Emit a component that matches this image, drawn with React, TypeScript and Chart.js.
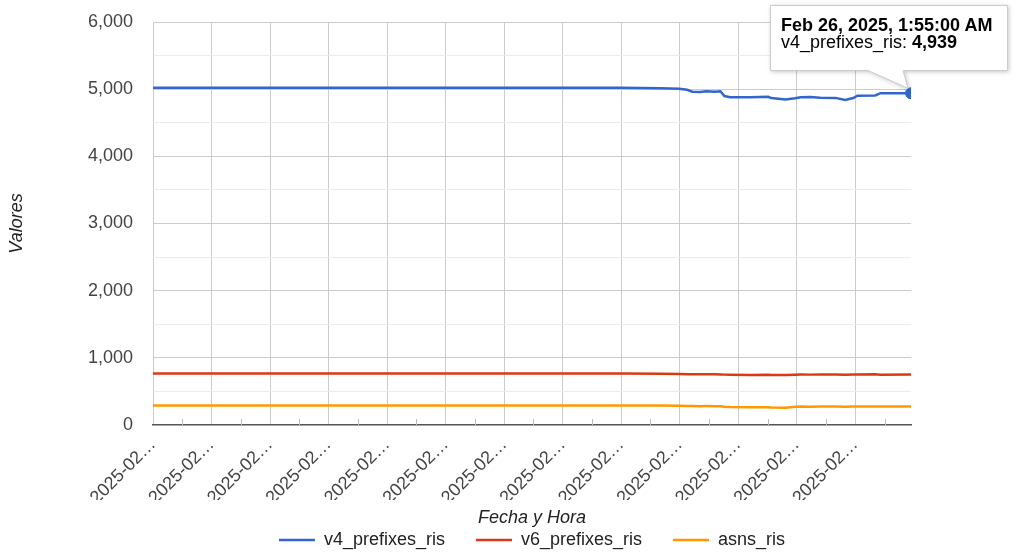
import React, { useEffect, useRef } from "react";
import { Chart, registerables } from "chart.js";

Chart.register(...registerables);

const FONT = '"Liberation Sans", Arial, Helvetica, sans-serif';

// Sample timestamps (local time)
const times: string[] = [
  "2025-02-19T14:30", "2025-02-21T06:55", "2025-02-22T21:55", "2025-02-23T14:20", "2025-02-23T22:30",
  "2025-02-24T02:25", "2025-02-24T04:00", "2025-02-24T05:05", "2025-02-24T06:40", "2025-02-24T07:55",
  "2025-02-24T09:45", "2025-02-24T10:50", "2025-02-24T11:40", "2025-02-24T12:50", "2025-02-24T17:00",
  "2025-02-24T20:40", "2025-02-24T21:15", "2025-02-25T00:10", "2025-02-25T02:10", "2025-02-25T03:15",
  "2025-02-25T05:15", "2025-02-25T07:20", "2025-02-25T10:25", "2025-02-25T12:25", "2025-02-25T14:05",
  "2025-02-25T14:55", "2025-02-25T18:35", "2025-02-25T19:40", "2025-02-26T01:55",
];

const v4PrefixesRis: number[] = [
  5020, 5021, 5022, 5022, 5015, 5005, 4990, 4962, 4958, 4968,
  4963, 4970, 4898, 4880, 4878, 4886, 4868, 4848, 4866, 4880,
  4882, 4874, 4870, 4838, 4868, 4902, 4906, 4940, 4939,
];

const v6PrefixesRis: number[] = [
  765, 765, 766, 765, 763, 760, 757, 755, 755, 756,
  754, 753, 750, 748, 746, 748, 745, 743, 748, 751,
  750, 752, 751, 749, 752, 753, 754, 750, 753,
];

const asnsRis: number[] = [
  290, 290, 291, 290, 289, 287, 284, 282, 281, 282,
  281, 280, 272, 268, 265, 266, 262, 258, 270, 274,
  273, 275, 274, 272, 275, 276, 277, 275, 276,
];

const seriesNames: string[] = ["v4_prefixes_ris", "v6_prefixes_ris", "asns_ris"];
const seriesColors: string[] = ["#3366cc", "#dc3912", "#ff9900"];
const seriesValues: number[][] = [v4PrefixesRis, v6PrefixesRis, asnsRis];

const yMin = 0;
const yMax = 6000;
const yMajorStep = 1000;
const yMinorStep = 500;
const xMajorStepHours = 12;
const xMinorStepHours = 6;
const highlightSeries = 0;
const highlightIndex = times.length - 1;

const xTitle = "Fecha y Hora";
const yTitle = "Valores";

const pad2 = (n: number) => String(n).padStart(2, "0");
const fullLabel = (ms: number) => {
  const d = new Date(ms);
  return `${d.getFullYear()}-${pad2(d.getMonth() + 1)}-${pad2(d.getDate())} ${pad2(d.getHours())}:${pad2(d.getMinutes())}`;
};
const truncate = (s: string, n: number) => (s.length > n ? s.slice(0, n) + "\u2026" : s);
const tooltipTitle = (ms: number) =>
  new Date(ms).toLocaleString("en-US", {
    month: "short",
    day: "numeric",
    year: "numeric",
    hour: "numeric",
    minute: "2-digit",
    second: "2-digit",
  });

const minorTicksPlugin = {
  id: "minorTicks",
  beforeDatasetsDraw(chart: any) {
    const xs = chart.scales.x;
    const { ctx, chartArea } = chart;
    ctx.save();
    ctx.strokeStyle = "#bbbbbb";
    ctx.lineWidth = 1;
    xs.ticks.forEach((t: any, i: number) => {
      if (i % 2 === 1) {
        const px = Math.round(xs.getPixelForValue(t.value)) + 0.5;
        ctx.beginPath();
        ctx.moveTo(px, chartArea.bottom);
        ctx.lineTo(px, chartArea.bottom - 6);
        ctx.stroke();
      }
    });
    ctx.restore();
  },
};

export default function App() {
  const canvasRef = useRef<HTMLCanvasElement | null>(null);
  const tipRef = useRef<HTMLDivElement | null>(null);

  useEffect(() => {
    const canvas = canvasRef.current;
    if (!canvas) return;
    const xVals = times.map((t) => Date.parse(t));
    const tStart = xVals[0];
    const tEnd = xVals[xVals.length - 1];
    const hour = 3600 * 1000;

    const datasets = seriesNames.map((name, si) => ({
      label: name,
      data: seriesValues[si].map((v, i) => ({ x: xVals[i], y: v })),
      borderColor: seriesColors[si],
      backgroundColor: seriesColors[si],
      borderWidth: 2.5,
      pointRadius: 0,
      pointHoverRadius: si === highlightSeries ? 5.5 : 0,
      pointHoverBorderWidth: 1,
      pointHoverBackgroundColor: seriesColors[si],
      pointHoverBorderColor: seriesColors[si],
      tension: 0,
      fill: false,
    }));

    const chart = new Chart(canvas, {
      type: "line",
      data: { datasets },
      plugins: [minorTicksPlugin],
      options: {
        animation: false,
        responsive: true,
        maintainAspectRatio: false,
        events: [],
        layout: { padding: { top: 22, right: 113, bottom: 0, left: 0 } },
        scales: {
          x: {
            type: "linear",
            min: tStart,
            max: tEnd,
            afterBuildTicks: (scale: any) => {
              const ticks: any[] = [];
              for (let v = tStart; v <= tEnd; v += xMinorStepHours * hour) ticks.push({ value: v });
              scale.ticks = ticks;
            },
            afterFit: (scale: any) => {
              scale.height = 75;
            },
            ticks: {
              autoSkip: false,
              minRotation: 45,
              maxRotation: 45,
              padding: 9,
              labelOffset: 0,
              color: "#444444",
              font: { family: FONT, size: 18 },
              callback: (value: any, index: number) =>
                index % (xMajorStepHours / xMinorStepHours) === 0 ? truncate(fullLabel(Number(value)), 7) : "",
            },
            grid: {
              drawTicks: false,
              color: (c: any) => (c.index % (xMajorStepHours / xMinorStepHours) === 0 ? "#cccccc" : "rgba(0,0,0,0)"),
            },
            border: { display: true, color: "#555555", width: 1.5 },
            title: {
              display: true,
              text: xTitle,
              color: "#222222",
              font: { family: FONT, size: 18, style: "italic" },
              padding: { top: 0, bottom: -29 },
            },
          },
          y: {
            min: yMin,
            max: yMax,
            afterFit: (scale: any) => {
              scale.width = 153;
            },
            ticks: {
              stepSize: yMinorStep,
              padding: 0,
              color: "#444444",
              font: { family: FONT, size: 18 },
              callback: (value: any) =>
                Number(value) % yMajorStep === 0 ? Number(value).toLocaleString("en-US") : "",
            },
            grid: {
              drawTicks: true,
              tickLength: 20,
              tickColor: "rgba(0,0,0,0)",
              color: (c: any) => {
                const v = c.tick ? c.tick.value : 0;
                if (v === 0) return "rgba(0,0,0,0)";
                return v % yMajorStep === 0 ? "#cccccc" : "#ebebeb";
              },
            },
            border: { display: false },
            title: {
              display: true,
              text: yTitle,
              color: "#222222",
              font: { family: FONT, size: 18, style: "italic" },
              padding: { top: 6, bottom: 0 },
            },
          },
        },
        plugins: {
          legend: {
            position: "bottom",
            fullSize: false,
            maxHeight: 56,
            labels: {
              usePointStyle: true,
              pointStyle: "line",
              pointStyleWidth: 36,
              boxWidth: 36,
              padding: 31,
              color: "#222222",
              font: { family: FONT, size: 18 },
            },
          },
          tooltip: {
            enabled: false,
            animation: false,
            external: ({ tooltip }: any) => {
              const host = tipRef.current;
              if (!host) return;
              if (!tooltip.opacity || !tooltip.dataPoints || !tooltip.dataPoints.length) {
                host.innerHTML = "";
                return;
              }
              const dp = tooltip.dataPoints[0];
              const cx = tooltip.caretX;
              const cy = tooltip.caretY;
              const bx0 = Math.round(cx - 141.5) + 0.5;
              const bx1 = Math.round(cx + 96) + 0.5;
              const by0 = Math.round(cy - 88) + 0.5;
              const by1 = Math.round(cy - 23) + 0.5;
              const path = `M${bx0},${by0} H${bx1} V${by1} H${Math.round(cx - 8.5)} L${cx - 3},${cy - 5} L${Math.round(cx - 43.5)},${by1} H${bx0} Z`;
              const title = tooltipTitle(dp.parsed.x);
              const value = Number(dp.parsed.y).toLocaleString("en-US");
              host.innerHTML =
                `<svg width="1024" height="556" style="position:absolute;left:0;top:0;overflow:visible;filter:drop-shadow(1px 1px 2px rgba(0,0,0,0.22))">` +
                `<path d="${path}" fill="#ffffff" stroke="#cccccc" stroke-width="1"/></svg>` +
                `<div style="position:absolute;left:${bx0 + 10.5}px;top:${Math.round(cy - 76)}px;font-family:${FONT.replace(/"/g, "'")};font-size:18px;line-height:17px;color:#000;white-space:nowrap">` +
                `<div style="font-weight:bold">${title}</div>` +
                `<div>${dp.dataset.label}: <b>${value}</b></div></div>`;
            },
          },
        },
      } as any,
    });

    const active = [{ datasetIndex: highlightSeries, index: highlightIndex }];
    chart.setActiveElements(active);
    const el: any = chart.getDatasetMeta(highlightSeries).data[highlightIndex];
    chart.tooltip?.setActiveElements(active, { x: el.x, y: el.y });
    chart.update("none");

    return () => {
      chart.destroy();
    };
  }, []);

  return (
    <div style={{ position: "fixed", left: 0, top: 0, width: 1024, height: 556, background: "#ffffff" }}>
      <canvas ref={canvasRef} />
      <div
        ref={tipRef}
        style={{ position: "absolute", left: 0, top: 0, width: 1024, height: 556, pointerEvents: "none" }}
      />
    </div>
  );
}
